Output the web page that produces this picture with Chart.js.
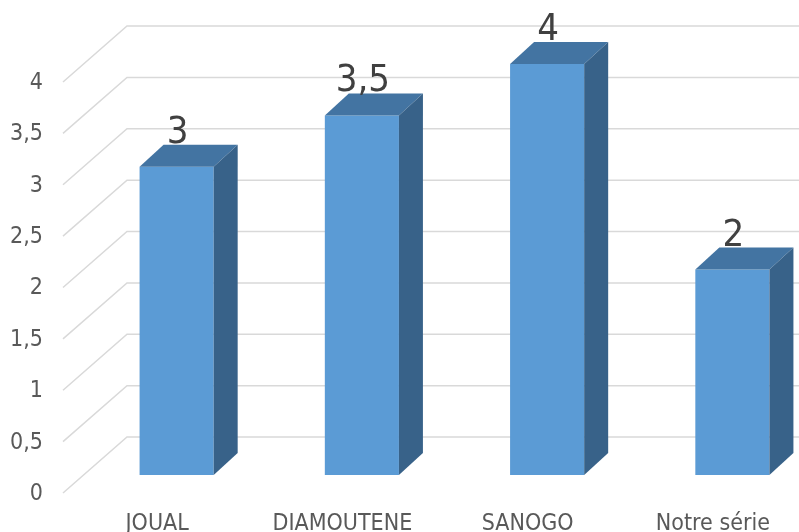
<!DOCTYPE html>
<html>
<head>
<meta charset="utf-8">
<script src="https://cdn.jsdelivr.net/npm/chart.js@4.4.1/dist/chart.umd.min.js"></script>
<style>
  html, body { margin: 0; padding: 0; overflow: hidden; background: #ffffff; }
  canvas { display: block; }
</style>
</head>
<body>
<canvas id="chart" width="825" height="532"></canvas>
<script>
// Scores per series
const categories = ['JOUAL', 'DIAMOUTENE', 'SANOGO', 'Notre série'];
const notes = [3, 3.5, 4, 2];

const FONT = "'Liberation Sans Narrow', 'DejaVu Sans Condensed', sans-serif";
const FRONT = '#5b9bd5';
const TOP = '#4374a2';
const SIDE = '#386289';
const GRID = '#d9d9d9';

// Extrusion of each bar (toward the back wall)
const DEPTH = { dx: 24, dy: -22 };
// Side wall: where each gridline starts (front) and turns (back), relative to the plot edge / value pixel
const WALL = { frontX: -21, frontY: 18, backX: 43, backY: -38 };

const withComma = v => String(v).replace('.', ',');

const depthPlugin = {
  id: 'depth3d',
  beforeDatasetsDraw(chart) {
    const { ctx, chartArea, scales } = chart;
    const y = scales.y;
    ctx.save();
    ctx.strokeStyle = GRID;
    ctx.lineWidth = 1.5;
    y.ticks.forEach(t => {
      const py = y.getPixelForValue(t.value);
      ctx.beginPath();
      ctx.moveTo(chartArea.left + WALL.frontX, py + WALL.frontY);
      ctx.lineTo(chartArea.left + WALL.backX, py + WALL.backY);
      ctx.lineTo(chart.width, py + WALL.backY);
      ctx.stroke();
    });
    ctx.restore();
  },
  afterDatasetsDraw(chart) {
    const { ctx } = chart;
    const meta = chart.getDatasetMeta(0);
    const values = chart.data.datasets[0].data;
    const { dx, dy } = DEPTH;
    ctx.save();
    meta.data.forEach((bar, i) => {
      const { x, y, base, width } = bar.getProps(['x', 'y', 'base', 'width'], true);
      const l = x - width / 2;
      const r = x + width / 2;

      // top face
      ctx.fillStyle = TOP;
      ctx.beginPath();
      ctx.moveTo(l, y);
      ctx.lineTo(r, y);
      ctx.lineTo(r + dx, y + dy);
      ctx.lineTo(l + dx, y + dy);
      ctx.closePath();
      ctx.fill();

      // right side face
      ctx.fillStyle = SIDE;
      ctx.beginPath();
      ctx.moveTo(r, y);
      ctx.lineTo(r + dx, y + dy);
      ctx.lineTo(r + dx, base + dy);
      ctx.lineTo(r, base);
      ctx.closePath();
      ctx.fill();

      // value label above the bar
      ctx.fillStyle = '#404040';
      ctx.font = '38px ' + FONT;
      ctx.textAlign = 'center';
      ctx.textBaseline = 'alphabetic';
      ctx.fillText(withComma(values[i]), x + 1, y + dy - 2);
    });
    ctx.restore();
  }
};

new Chart(document.getElementById('chart'), {
  type: 'bar',
  data: {
    labels: categories,
    datasets: [{
      data: notes,
      backgroundColor: FRONT,
      borderWidth: 0,
      barPercentage: 0.4,
      categoryPercentage: 1.0
    }]
  },
  options: {
    responsive: false,
    animation: false,
    layout: { padding: { top: 64, left: 0, right: 0, bottom: 0 } },
    plugins: {
      legend: { display: false },
      tooltip: { enabled: false }
    },
    scales: {
      x: {
        grid: { display: false, drawTicks: false },
        border: { display: false },
        ticks: {
          color: '#595959',
          font: { family: FONT, size: 23 },
          padding: 35,
          labelOffset: -19.5,
          maxRotation: 0,
          autoSkip: false
        },
        afterFit(scale) { scale.height = 57; }
      },
      y: {
        min: 0,
        max: 4,
        grid: { display: false, drawTicks: false },
        border: { display: false },
        ticks: {
          stepSize: 0.5,
          color: '#595959',
          font: { family: FONT, size: 23 },
          padding: 41,
          labelOffset: 19,
          callback: v => withComma(v)
        },
        afterFit(scale) { scale.width = 84; }
      }
    }
  },
  plugins: [depthPlugin]
});
</script>
</body>
</html>
